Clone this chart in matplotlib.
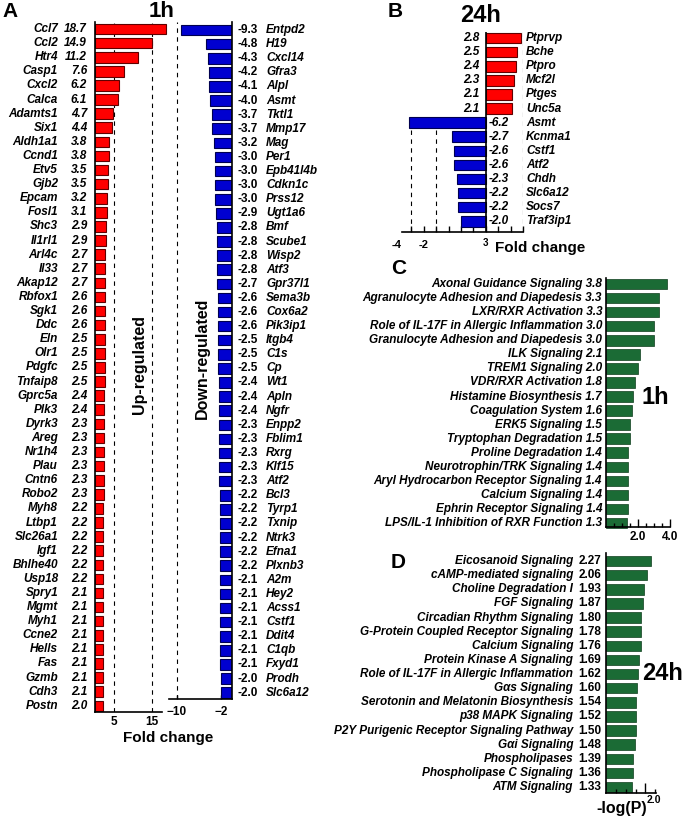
import numpy as np
import matplotlib
matplotlib.use("Agg")
import matplotlib.pyplot as plt
from matplotlib.transforms import blended_transform_factory as blend

plt.rcParams['font.family'] = ['Liberation Sans', 'DejaVu Sans']
plt.rcParams['font.weight'] = 'bold'

# Panel A - 1h up/down regulated genes
up_genes_1h = ["Ccl7", "Ccl2", "Htr4", "Casp1", "Cxcl2", "Calca", "Adamts1", "Six1", "Aldh1a1", "Ccnd1",
               "Etv5", "Gjb2", "Epcam", "Fosl1", "Shc3", "Il1rl1", "Arl4c", "Il33", "Akap12", "Rbfox1",
               "Sgk1", "Ddc", "Eln", "Olr1", "Pdgfc", "Tnfaip8", "Gprc5a", "Plk3", "Dyrk3", "Areg",
               "Nr1h4", "Plau", "Cntn6", "Robo2", "Myh8", "Ltbp1", "Slc26a1", "Igf1", "Bhlhe40", "Usp18",
               "Spry1", "Mgmt", "Myh1", "Ccne2", "Hells", "Fas", "Gzmb", "Cdh3", "Postn"]
up_fc_1h = [18.7, 14.9, 11.2, 7.6, 6.2, 6.1, 4.7, 4.4, 3.8, 3.8,
            3.5, 3.5, 3.2, 3.1, 2.9, 2.9, 2.7, 2.7, 2.7, 2.6,
            2.6, 2.6, 2.5, 2.5, 2.5, 2.5, 2.4, 2.4, 2.3, 2.3,
            2.3, 2.3, 2.3, 2.3, 2.2, 2.2, 2.2, 2.2, 2.2, 2.2,
            2.1, 2.1, 2.1, 2.1, 2.1, 2.1, 2.1, 2.1, 2.0]
down_genes_1h = ["Entpd2", "H19", "Cxcl14", "Gfra3", "Alpl", "Asmt", "Tktl1", "Mmp17", "Mag", "Per1",
                 "Epb41l4b", "Cdkn1c", "Prss12", "Ugt1a6", "Bmf", "Scube1", "Wisp2", "Atf3", "Gpr37l1",
                 "Sema3b", "Cox6a2", "Pik3ip1", "Itgb4", "C1s", "Cp", "Wt1", "Apln", "Ngfr", "Enpp2",
                 "Fblim1", "Rxrg", "Klf15", "Atf2", "Bcl3", "Tyrp1", "Txnip", "Ntrk3", "Efna1", "Plxnb3",
                 "A2m", "Hey2", "Acss1", "Cstf1", "Ddit4", "C1qb", "Fxyd1", "Prodh", "Slc6a12"]
down_fc_1h = [-9.3, -4.8, -4.3, -4.2, -4.1, -4.0, -3.7, -3.7, -3.2, -3.0,
              -3.0, -3.0, -3.0, -2.9, -2.8, -2.8, -2.8, -2.8, -2.7,
              -2.6, -2.6, -2.6, -2.5, -2.5, -2.5, -2.4, -2.4, -2.4, -2.3,
              -2.3, -2.3, -2.3, -2.3, -2.2, -2.2, -2.2, -2.2, -2.2, -2.2,
              -2.1, -2.1, -2.1, -2.1, -2.1, -2.1, -2.1, -2.0, -2.0]

# Panel B - 24h genes
genes_24h = ["Ptprvp", "Bche", "Ptpro", "Mcf2l", "Ptges", "Unc5a",
             "Asmt", "Kcnma1", "Cstf1", "Atf2", "Chdh", "Slc6a12", "Socs7", "Traf3ip1"]
fc_24h = [2.8, 2.5, 2.4, 2.3, 2.1, 2.1,
          -6.2, -2.7, -2.6, -2.6, -2.3, -2.2, -2.2, -2.0]

# Panel C - pathways 1h
path_1h = ["Axonal Guidance Signaling", "Agranulocyte Adhesion and Diapedesis", "LXR/RXR Activation",
           "Role of IL-17F in Allergic Inflammation", "Granulocyte Adhesion and Diapedesis", "ILK Signaling",
           "TREM1 Signaling", "VDR/RXR Activation", "Histamine Biosynthesis", "Coagulation System",
           "ERK5 Signaling", "Tryptophan Degradation", "Proline Degradation", "Neurotrophin/TRK Signaling",
           "Aryl Hydrocarbon Receptor Signaling", "Calcium Signaling", "Ephrin Receptor Signaling",
           "LPS/IL-1 Inhibition of RXR Function"]
logp_1h = [3.8, 3.3, 3.3, 3.0, 3.0, 2.1, 2.0, 1.8, 1.7, 1.6, 1.5, 1.5, 1.4, 1.4, 1.4, 1.4, 1.4, 1.3]

# Panel D - pathways 24h
path_24h = ["Eicosanoid Signaling", "cAMP-mediated signaling", "Choline Degradation I", "FGF Signaling",
            "Circadian Rhythm Signaling", "G-Protein Coupled Receptor Signaling", "Calcium Signaling",
            "Protein Kinase A Signaling", "Role of IL-17F in Allergic Inflammation", "G\u03b1s Signaling",
            "Serotonin and Melatonin Biosynthesis", "p38 MAPK Signaling",
            "P2Y Purigenic Receptor Signaling Pathway", "G\u03b1i Signaling", "Phospholipases",
            "Phospholipase C Signaling", "ATM Signaling"]
logp_24h = [2.27, 2.06, 1.93, 1.87, 1.80, 1.78, 1.76, 1.69, 1.62, 1.60, 1.54, 1.52, 1.50, 1.48, 1.39, 1.36, 1.33]

RED = '#ff0000'
BLUE = '#0000d0'
GREEN = '#1b6b35'
W, H = 683, 818
FS = 8.5

fig = plt.figure(figsize=(W / 100, H / 100), dpi=100)


def px_axes(left, top, right, bottom):
    return fig.add_axes([left / W, 1 - bottom / H, (right - left) / W, (bottom - top) / H])


def fx(x):
    return x / W


def fy(y):
    return 1 - y / H


def style(ax, show):
    for s in ['left', 'right', 'top', 'bottom']:
        ax.spines[s].set_visible(s in show)
        ax.spines[s].set_linewidth(1.2)
    ax.set_yticks([])


# ---- A red ----
ax = px_axes(95, 22, 162, 712)
y = np.arange(len(up_genes_1h))
ax.axvline(5, color='k', ls=(0, (4, 4)), lw=0.8, zorder=0)
ax.axvline(15, color='k', ls=(0, (4, 4)), lw=0.8, zorder=0)
ax.barh(y, up_fc_1h, height=0.75, color=RED, edgecolor='#600000', lw=0.8, clip_on=False, zorder=2)
ax.set_xlim(0, 17.63)
ax.set_ylim(48.44, -0.5)
style(ax, ['left', 'bottom'])
ax.set_xticks([5, 15])
ax.tick_params(axis='x', length=0, pad=3, labelsize=FS)
tr = blend(fig.transFigure, ax.transData)
for i, (g, v) in enumerate(zip(up_genes_1h, up_fc_1h)):
    ax.text(fx(58), i, g, transform=tr, ha='right', va='center', fontsize=FS, style='italic')
    ax.text(fx(87), i, f"{v:.1f}", transform=tr, ha='right', va='center', fontsize=FS, style='italic')

# ---- A blue ----
ax = px_axes(169, 22, 232, 699)
y = np.arange(len(down_genes_1h))
ax.axvline(-10, color='k', ls=(0, (4, 4)), lw=0.8, zorder=0)
ax.barh(y, down_fc_1h, height=0.75, color=BLUE, edgecolor='#000050', lw=0.8, zorder=2)
ax.set_xlim(-11.45, 0)
ax.set_ylim(47.45, -0.57)
style(ax, ['right', 'bottom'])
ax.set_xticks([-10, -2])
ax.tick_params(axis='x', direction='in', length=3, width=1, pad=5, labelsize=FS)
tr = blend(fig.transFigure, ax.transData)
for i, (g, v) in enumerate(zip(down_genes_1h, down_fc_1h)):
    ax.text(fx(237), i, f"{v:.1f}", transform=tr, ha='left', va='center', fontsize=FS)
    ax.text(fx(266), i, g, transform=tr, ha='left', va='center', fontsize=FS, style='italic')

fig.text(fx(2), fy(2), "A", fontsize=15, ha='left', va='top')
fig.text(fx(162), fy(1), "1h", fontsize=16, ha='center', va='top')
fig.text(fx(140), fy(365), "Up-regulated", rotation=90, fontsize=11.5, ha='center', va='center')
fig.text(fx(202), fy(358), "Down-regulated", rotation=90, fontsize=11.5, ha='center', va='center')
fig.text(fx(168), fy(738), "Fold change", fontsize=11, ha='center', va='center')

# ---- B ----
ax = px_axes(402, 32, 523, 232)
y = np.arange(len(genes_24h))
cols = [RED if v > 0 else BLUE for v in fc_24h]
edges = ['#600000' if v > 0 else '#000050' for v in fc_24h]
n_up = sum(1 for v in fc_24h if v > 0)
ax.axvline(3, color='k', ls=(0, (4, 4)), lw=0.8, zorder=0)
ax.vlines([-6, -4], n_up + 0.5, 13.76, color='k', linestyles=(0, (4, 4)), lw=0.8, zorder=0)
ax.barh(y, fc_24h, height=0.75, color=cols, edgecolor=edges, lw=0.8, zorder=2)
ax.axvline(0, color='k', lw=1.2, zorder=3)
ax.set_xlim(-6.75, 3.0)
ax.set_ylim(13.76, -0.43)
style(ax, ['bottom'])
ax.set_xticks(np.arange(-6, 4, 1))
ax.set_xticklabels([])
ax.tick_params(axis='x', direction='in', length=4, width=1)
tr = blend(fig.transFigure, ax.transData)
for i, (g, v) in enumerate(zip(genes_24h, fc_24h)):
    if v > 0:
        ax.text(fx(479), i, f"{v:.1f}", transform=tr, ha='right', va='center', fontsize=FS, style='italic')
    else:
        ax.text(fx(489), i, f"{v:.1f}", transform=tr, ha='left', va='center', fontsize=FS, style='italic')
    ax.text(fx(526), i, g, transform=tr, ha='left', va='center', fontsize=FS, style='italic')
fig.text(fx(397), fy(245), "-4", fontsize=8, ha='center', va='center')
fig.text(fx(424), fy(245), "-2", fontsize=8, ha='center', va='center')
fig.text(fx(485), fy(243), "3", fontsize=7, ha='center', va='center')
fig.text(fx(495), fy(248), "Fold change", fontsize=11, ha='left', va='center')
fig.text(fx(388), fy(2), "B", fontsize=15, ha='left', va='top')
fig.text(fx(481), fy(16), "24h", fontsize=17, ha='center', va='center')

# ---- C ----
ax = px_axes(606, 278, 670, 527)
y = np.arange(len(path_1h))
ax.barh(y, logp_1h, height=0.75, color=GREEN, edgecolor='#0e3d1d', lw=0.5, clip_on=False)
ax.set_xlim(0, 4.0)
ax.set_ylim(17.28, -0.43)
style(ax, ['left', 'bottom'])
ax.set_xticks([2, 4])
ax.set_xticklabels(["2.0", "4.0"])
ax.set_xticks(np.arange(0.5, 4, 0.5), minor=True)
ax.tick_params(axis='x', which='major', direction='in', length=6, width=1, pad=3, labelsize=FS)
ax.tick_params(axis='x', which='minor', direction='in', length=3, width=1)
tr = blend(fig.transFigure, ax.transData)
for i, (p, v) in enumerate(zip(path_1h, logp_1h)):
    ax.text(fx(602), i, f"{p} {v:.1f}", transform=tr, ha='right', va='center', fontsize=FS, style='italic')
fig.text(fx(391), fy(268), "C", fontsize=15, ha='left', va='center')
fig.text(fx(655), fy(397), "1h", fontsize=17, ha='center', va='center')

# ---- D ----
ax = px_axes(606, 553, 656, 793)
y = np.arange(len(path_24h))
ax.barh(y, logp_24h, height=0.75, color=GREEN, edgecolor='#0e3d1d', lw=0.5)
ax.set_xlim(0, 2.54)
ax.set_ylim(16.42, -0.57)
style(ax, ['left', 'bottom'])
ax.set_xticks([2])
ax.set_xticklabels([])
ax.set_xticks([0.5, 1.0, 1.5, 2.5], minor=True)
ax.tick_params(axis='x', which='major', direction='in', length=7, width=1)
ax.tick_params(axis='x', which='minor', direction='in', length=3, width=1)
tr = blend(fig.transFigure, ax.transData)
for i, (p, v) in enumerate(zip(path_24h, logp_24h)):
    ax.text(fx(573), i, p, transform=tr, ha='right', va='center', fontsize=FS, style='italic')
    ax.text(fx(601), i, f"{v:.2f}", transform=tr, ha='right', va='center', fontsize=FS)
fig.text(fx(622), fy(809), "-log(P)", fontsize=11.5, ha='center', va='center')
fig.text(fx(647), fy(800), "2.0", fontsize=7.5, ha='left', va='center')
fig.text(fx(391), fy(563), "D", fontsize=15, ha='left', va='center')
fig.text(fx(663), fy(674), "24h", fontsize=17, ha='center', va='center')

fig.savefig("out.png", dpi=100)
